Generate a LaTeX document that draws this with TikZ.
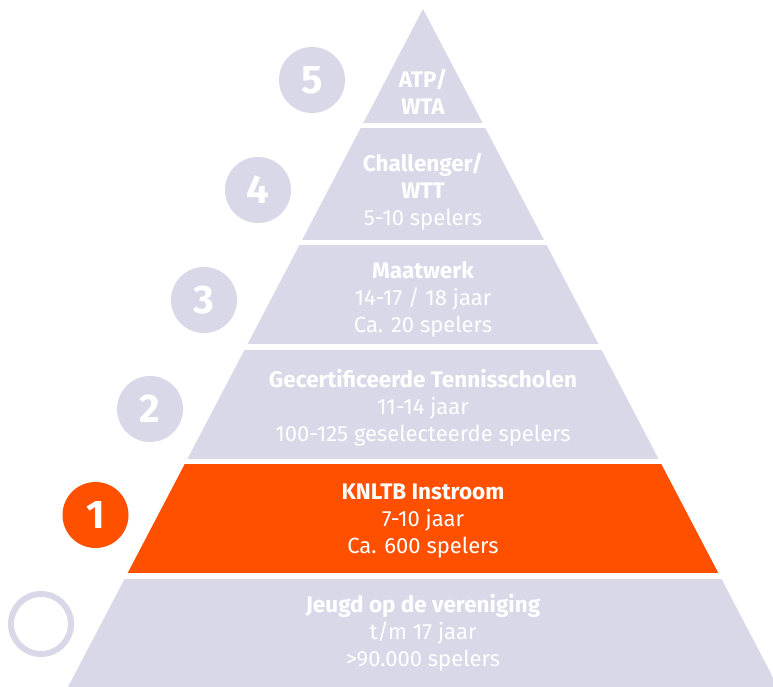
\documentclass[tikz,border=0pt]{standalone}
\usepackage{fontspec}
\setmainfont{Fira Sans}
\definecolor{lila}{HTML}{D9D8E8}
\definecolor{oranje}{HTML}{FF5000}
\newcommand{\kop}[1]{{\fontsize{22.5}{27}\selectfont\bfseries #1}}
\tikzset{>=latex}
\tikzset{
  band/.style={fill=lila},
  bandtekst/.style={text=white, align=center, font=\fontsize{22}{27}\selectfont},
  nummer/.style={circle, fill=lila, minimum size=66pt, inner sep=0pt, text=white,
    font=\fontsize{40}{40}\selectfont\bfseries},
  ring/.style={circle, draw=lila, line width=6pt, minimum size=60pt, inner sep=0pt}
}

\begin{document}
\begin{tikzpicture}[x=1pt,y=-1pt]
			\useasboundingbox (0,0) rectangle (773,687);
			% de piramide, in banden geknipt
			\begin{scope}
				\clip (423,9) -- (68,687) -- (778,687) -- cycle;
				\fill[band] (0,9) rectangle (773,123);
				\fill[band] (0,128) rectangle (773,240);
				\fill[band] (0,245) rectangle (773,344);
				\fill[band] (0,350) rectangle (773,459);
				\fill[oranje] (0,464) rectangle (773,573);
				\fill[band] (0,579) rectangle (773,687);
			\end{scope}
			
			\node[bandtekst] (atp) at (423,92) {\kop{ATP/}\\\kop{WTA}};
			\node[bandtekst] (challenger) at (423,192) {\kop{Challenger/}\\\kop{WTT}\\5-10 spelers};
			\node[bandtekst] (maatwerk) at (423,299) {\kop{Maatwerk}\\14-17 / 18 jaar\\Ca. 20 spelers};
			\node[bandtekst] (scholen) at (423,408) {\kop{Gecertificeerde Tennisscholen}\\11-14 jaar\\100-125 geselecteerde spelers};
			\node[bandtekst] (instroom) at (423,521) {\kop{KNLTB Instroom}\\7-10 jaar\\Ca. 600 spelers};
			\node[bandtekst] (jeugd) at (423,633) {\kop{Jeugd op de vereniging}\\t/m 17 jaar\\>90.000 spelers};
			
			% de nummers
			\node[nummer] (n5) at (312,80) {5};
			\node[nummer] (n4) at (258,190) {4};
			\node[nummer] (n3) at (204,300) {3};
			\node[nummer] (n2) at (150,409) {2};
			\node[nummer, fill=oranje] (n1) at (95.5,515) {1};
			\node[ring] (n0) at (41,624) {};
		\end{tikzpicture}
\end{document}
